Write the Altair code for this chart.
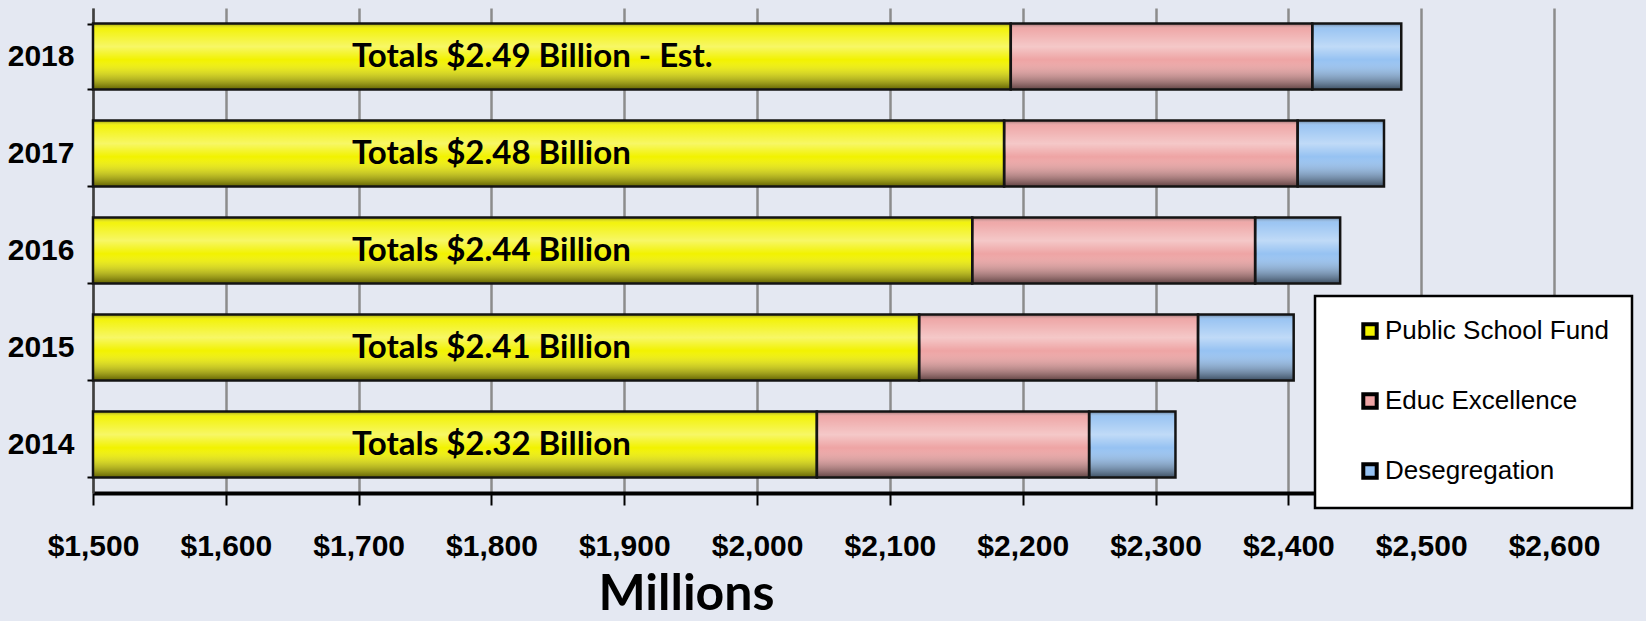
import altair as alt
import pandas as pd

# ---- data (millions of dollars) ----
years = ["2018", "2017", "2016", "2015", "2014"]
series = ["Public School Fund", "Educ Excellence", "Desegregation"]
public_school_fund = [2191, 2186, 2162, 2122, 2045]
educ_excellence = [227, 221, 213, 210, 205]
desegregation = [67, 65, 64, 72, 65]
total_labels = [
    "Totals $2.49 Billion - Est.",
    "Totals $2.48 Billion",
    "Totals $2.44 Billion",
    "Totals $2.41 Billion",
    "Totals $2.32 Billion",
]
x_ticks = [1500, 1600, 1700, 1800, 1900, 2000, 2100, 2200, 2300, 2400, 2500, 2600]
X_MIN, X_MAX = 1500, 2600

colors = ["#f2f200", "#eea4a4", "#96c2f2"]

rows = []
for i, yr in enumerate(years):
    a = public_school_fund[i]
    b = a + educ_excellence[i]
    c = b + desegregation[i]
    rows.append(dict(year=yr, series=series[0], start=X_MIN, end=a))
    rows.append(dict(year=yr, series=series[1], start=a, end=b))
    rows.append(dict(year=yr, series=series[2], start=b, end=c))
df = pd.DataFrame(rows)
lab = pd.DataFrame({"year": years, "label": total_labels})

NARROW = "Liberation Sans, Arial, sans-serif"
HUMAN = "Lato, Open Sans, sans-serif"

xs = alt.Scale(domain=[X_MIN, X_MAX], nice=False, zero=False)
ys = alt.Scale(domain=years, paddingInner=0.32, paddingOuter=0.16)

shade = {
    "gradient": "linear", "x1": 0, "y1": 0, "x2": 0, "y2": 1,
    "stops": [
        {"offset": 0.0, "color": "rgba(0,0,0,0.40)"},
        {"offset": 0.08, "color": "rgba(255,255,255,0.05)"},
        {"offset": 0.35, "color": "rgba(255,255,255,0.40)"},
        {"offset": 0.55, "color": "rgba(255,255,255,0.0)"},
        {"offset": 1.0, "color": "rgba(0,0,0,0.60)"},
    ],
}

base = alt.Chart(df)

bars = base.mark_bar(strokeWidth=0).encode(
    x=alt.X(
        "start:Q",
        scale=xs,
        axis=alt.Axis(
            values=x_ticks, format="$,.0f", title="Millions",
            grid=True, gridColor="#8c8c8c", gridWidth=2.5,
            domainColor="black", domainWidth=4,
            tickColor="black", tickWidth=2, tickSize=12,
            labelFont=NARROW, labelFontWeight="bold", labelFontSize=30,
            labelColor="black", labelPadding=26, labelOverlap=False,
            labelFlush=False,
            titleFont=HUMAN, titleFontWeight="bold", titleFontSize=50,
            titleColor="black", titleX=593, titleY=116,
            titleAlign="center", titleBaseline="alphabetic",
        ),
    ),
    x2="end:Q",
    y=alt.Y(
        "year:N",
        scale=ys,
        sort=years,
        axis=alt.Axis(
            title=None, domainColor="#404040", domainWidth=2.5,
            tickColor="black", tickWidth=2, tickSize=6, tickBand="extent",
            labelFont=NARROW, labelFontWeight="bold", labelFontSize=30,
            labelColor="black", labelPadding=13,
        ),
    ),
    color=alt.Color(
        "series:N",
        scale=alt.Scale(domain=series, range=colors),
        legend=alt.Legend(
            title=None, orient="none", legendX=1222, legendY=288,
            fillColor="white", strokeColor="black", padding=22,
            rowPadding=40, labelFont=NARROW, labelFontSize=26,
            labelColor="black", labelLimit=400, labelOffset=2,
            symbolType="square", symbolSize=180, symbolStrokeColor="black",
            symbolStrokeWidth=4, symbolOffset=20,
        ),
    ),
)

shading = base.mark_bar(fill=shade, stroke="#141414", strokeWidth=2.5).encode(
    x="start:Q", x2="end:Q", y=alt.Y("year:N", sort=years)
)

text = alt.Chart(lab).mark_text(
    align="left", baseline="middle", font=HUMAN, fontWeight="bold",
    fontSize=33, color="black",
).encode(x=alt.value(259), y=alt.Y("year:N", sort=years), text="label:N")

chart = (
    alt.layer(bars, shading, text)
    .properties(
        width=1461, height=485,
        autosize=alt.AutoSizeParams(type="none"),
        padding={"left": 93, "top": 8, "right": 92, "bottom": 128},
        background="#e4e8f2",
    )
    .configure_view(stroke=None)
    .configure_legend(strokeWidth=2.5)
)

chart.save("out.html", embed_options={"renderer": "svg", "actions": False})
